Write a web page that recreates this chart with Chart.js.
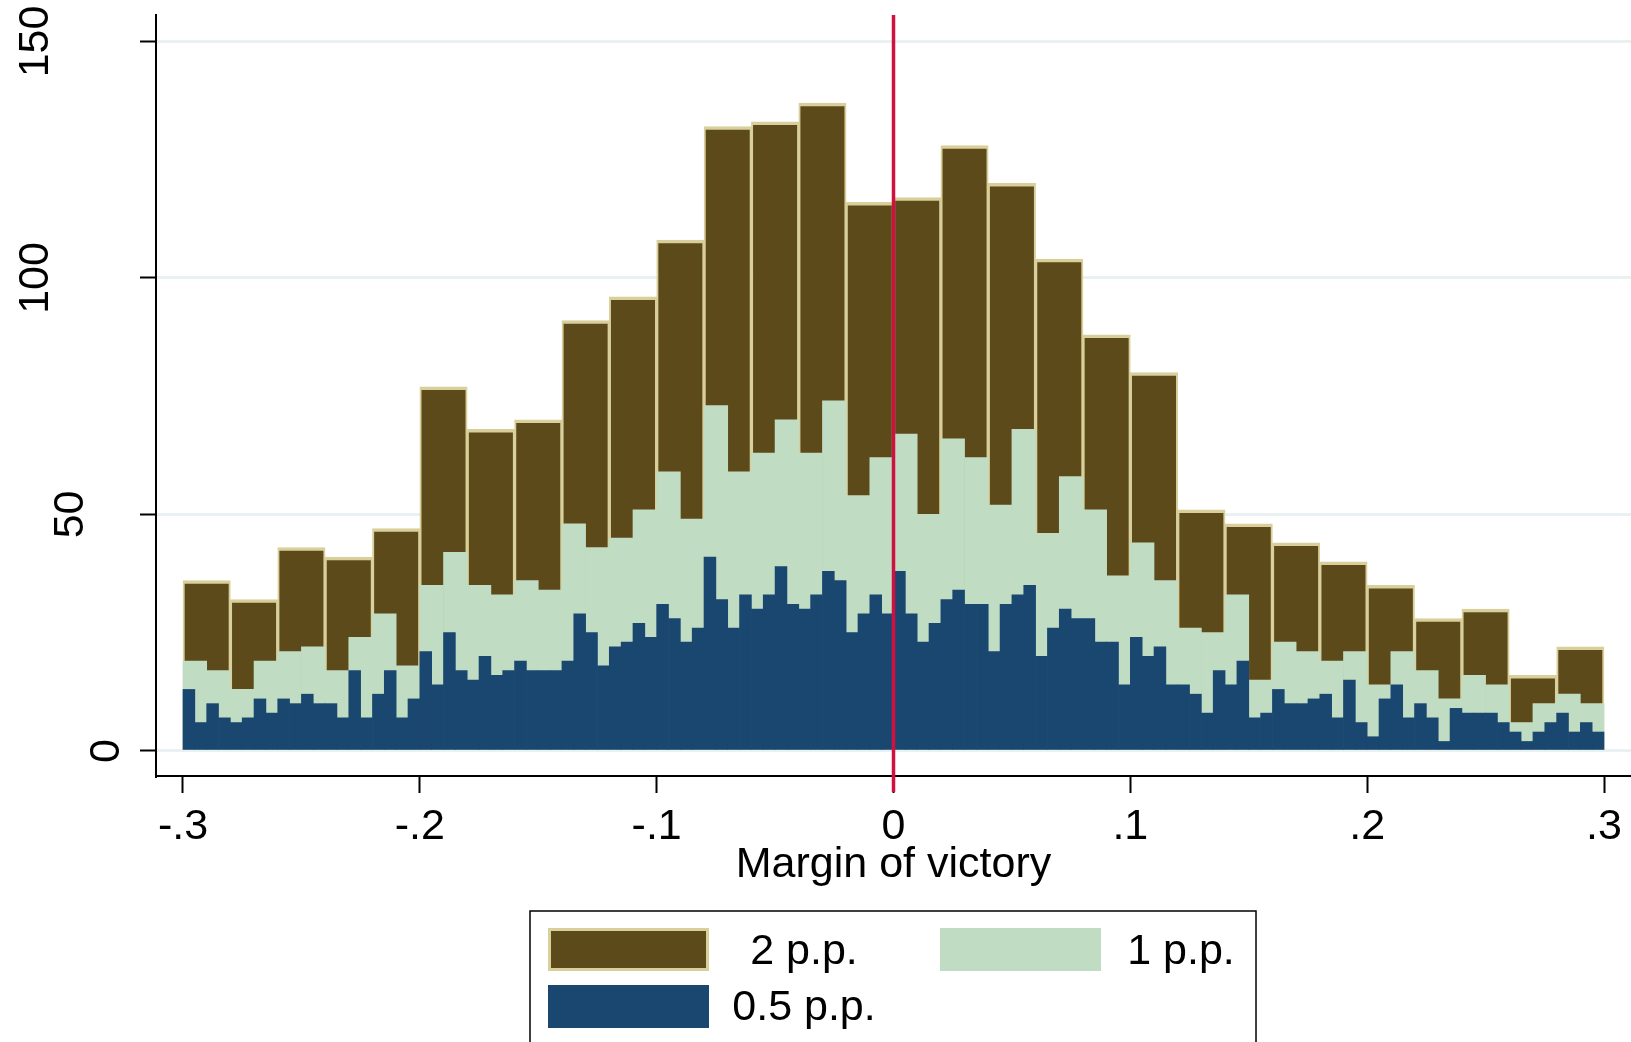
<!DOCTYPE html>
<html>
<head>
<meta charset="utf-8">
<script src="https://cdn.jsdelivr.net/npm/chart.js@4.4.1/dist/chart.umd.min.js"></script>
<style>
  html, body { margin: 0; padding: 0; background: #ffffff; }
  #wrap { position: relative; width: 1631px; height: 1042px; }
  canvas { display: block; }
</style>
</head>
<body>
<div id="wrap"><canvas id="hist" width="1631" height="1042"></canvas></div>
<script>
// Bin layout: every histogram starts at a margin of -0.3
const BIN_START = -0.3;
const WIDTH_2PP = 0.02;
const WIDTH_1PP = 0.01;
const WIDTH_05PP = 0.005;

// Frequencies per bin, left to right
const counts2pp = [36, 32, 43, 41, 47, 77, 68, 70, 91, 96,
                   108, 132, 133, 137, 116, 117, 128, 120, 104, 88,
                   80, 51, 48, 44, 40, 35, 28, 30, 16, 22];

const counts1pp = [19, 17, 13, 19, 21, 22, 17, 24, 29, 18,
                   35, 42, 35, 33, 36, 34, 48, 43, 45, 51,
                   59, 49, 73, 59, 63, 70, 63, 74, 54, 62,
                   67, 50, 66, 62, 52, 68, 46, 58, 51, 37,
                   44, 36, 26, 25, 33, 15, 23, 21, 19, 21,
                   14, 21, 17, 11, 16, 14, 6, 10, 12, 10];

const counts05pp = [13, 6, 10, 7, 6, 7, 11, 8, 11, 10,
                    12, 10, 10, 7, 17, 7, 12, 17, 7, 11,
                    21, 14, 25, 17, 15, 20, 16, 17, 19, 17,
                    17, 17, 19, 29, 25, 18, 22, 23, 27, 24,
                    31, 28, 23, 26, 41, 32, 26, 33, 30, 33,
                    39, 31, 30, 33, 38, 36, 25, 29, 33, 29,
                    38, 29, 23, 27, 32, 34, 31, 31, 21, 31,
                    33, 35, 20, 26, 30, 28, 28, 23, 23, 14,
                    24, 20, 22, 14, 14, 12, 8, 17, 14, 19,
                    7, 8, 13, 10, 10, 11, 12, 7, 15, 6,
                    3, 11, 14, 7, 10, 7, 2, 9, 8, 8,
                    8, 6, 4, 2, 4, 6, 8, 4, 6, 4];

const seriesLabels = ['2 p.p.', '1 p.p.', '0.5 p.p.'];
const yTickValues = [0, 50, 100, 150];
const xAxisTitle = 'Margin of victory';

// Axis ranges
const X_MIN = -0.3114, X_MAX = 0.3114;
const Y_MIN = -5.3, Y_MAX = 155.6;

const FONT = "'Liberation Sans', Arial, Helvetica, sans-serif";
const COLORS = {
  brown: '#5c4a1a',
  tan: '#d8cf9b',
  green: '#c0dcc2',
  navy: '#1a476f',
  grid: '#e9f1f2',
  cutoff: '#cf1140'
};

function toBins(counts, width) {
  return counts.map((c, i) => ({ x: BIN_START + width * (i + 0.5), y: c }));
}

function fmtMargin(v) {
  const n = Math.round(v * 10);
  if (n === 0) return '0';
  return (n < 0 ? '-.' : '.') + Math.abs(n);
}

// Vertical line at a zero margin, drawn over the bars
const cutoffLine = {
  id: 'cutoffLine',
  afterDatasetsDraw(chart) {
    const { ctx, chartArea, scales } = chart;
    const x = scales.x.getPixelForValue(0);
    ctx.save();
    ctx.strokeStyle = COLORS.cutoff;
    ctx.lineWidth = 3.5;
    ctx.beginPath();
    ctx.moveTo(x, chartArea.top);
    ctx.lineTo(x, chartArea.bottom + 16);
    ctx.stroke();
    ctx.restore();
  }
};

// Rotated y tick labels; longer labels sit further from the axis
const yLabels = {
  id: 'yLabels',
  afterDraw(chart) {
    const { ctx, scales } = chart;
    ctx.save();
    ctx.fillStyle = '#000';
    ctx.font = '43px ' + FONT;
    ctx.textAlign = 'center';
    ctx.textBaseline = 'middle';
    yTickValues.forEach(v => {
      const text = String(v);
      const y = scales.y.getPixelForValue(v);
      const x = 107 - (text.length - 1) * 35.5;
      ctx.save();
      ctx.translate(x, y);
      ctx.rotate(-Math.PI / 2);
      ctx.fillText(text, 0, 0);
      ctx.restore();
    });
    ctx.restore();
  }
};

// Boxed legend below the axis title, two columns
const boxLegend = {
  id: 'boxLegend',
  afterDraw(chart) {
    const { ctx } = chart;
    const ds = chart.data.datasets;
    const box = { x: 530, y: 911, w: 726, h: 160 };
    const slots = [
      { sx: 548, sy: 928, tx: 804, ty: 952 },
      { sx: 940, sy: 928, tx: 1181, ty: 952 },
      { sx: 548, sy: 985, tx: 804, ty: 1008 }
    ];
    ctx.save();
    ctx.fillStyle = '#fff';
    ctx.fillRect(box.x, box.y, box.w, box.h);
    ctx.strokeStyle = '#000';
    ctx.lineWidth = 1.5;
    ctx.strokeRect(box.x, box.y, box.w, box.h);
    ds.forEach((d, i) => {
      const s = slots[i];
      const w = 161, h = 43;
      ctx.fillStyle = d.borderWidth ? d.borderColor : d.backgroundColor;
      ctx.fillRect(s.sx, s.sy, w, h);
      if (d.borderWidth) {
        ctx.fillStyle = d.backgroundColor;
        ctx.fillRect(s.sx + 3, s.sy + 3, w - 6, h - 6);
      }
      ctx.fillStyle = '#000';
      ctx.font = '43px ' + FONT;
      ctx.textAlign = 'center';
      ctx.textBaseline = 'middle';
      ctx.fillText(d.label, s.tx, s.ty);
    });
    ctx.restore();
  }
};

const hiddenX = {
  type: 'linear', display: false, min: X_MIN, max: X_MAX, offset: false,
  ticks: { stepSize: 0.1, includeBounds: false }
};

new Chart(document.getElementById('hist'), {
  type: 'bar',
  data: {
    datasets: [
      {
        label: seriesLabels[0], xAxisID: 'x', order: 2,
        data: toBins(counts2pp, WIDTH_2PP),
        backgroundColor: COLORS.brown, borderColor: COLORS.tan,
        borderWidth: { top: 3.5, left: 2, right: 2, bottom: 0 }, borderSkipped: 'start',
        barPercentage: 1, categoryPercentage: 1, grouped: false
      },
      {
        label: seriesLabels[1], xAxisID: 'x1', order: 1,
        data: toBins(counts1pp, WIDTH_1PP),
        backgroundColor: COLORS.green, borderWidth: 0,
        barPercentage: 1, categoryPercentage: 1, grouped: false
      },
      {
        label: seriesLabels[2], xAxisID: 'x05', order: 0,
        data: toBins(counts05pp, WIDTH_05PP),
        backgroundColor: COLORS.navy, borderWidth: 0,
        barPercentage: 1, categoryPercentage: 1, grouped: false
      }
    ]
  },
  options: {
    responsive: false,
    devicePixelRatio: 1,
    animation: false,
    layout: { padding: { top: 15, right: 0, bottom: 0, left: 0 } },
    plugins: { legend: { display: false }, tooltip: { enabled: false }, title: { display: false } },
    scales: {
      x: {
        type: 'linear', position: 'bottom', min: X_MIN, max: X_MAX, offset: false,
        ticks: {
          stepSize: 0.1, includeBounds: false, autoSkip: false, maxRotation: 0, minRotation: 0,
          padding: 8, color: '#000', font: { family: FONT, size: 43 }, callback: fmtMargin
        },
        grid: {
          offset: false, drawOnChartArea: false, drawTicks: true,
          tickLength: 17, tickColor: '#000', tickWidth: 2
        },
        border: { display: true, color: '#000', width: 2 },
        title: {
          display: true, text: xAxisTitle, color: '#000',
          font: { family: FONT, size: 43 }, padding: { top: 0, bottom: 151 }
        },
        afterFit(scale) { scale.height = 266; }
      },
      x1: hiddenX,
      x05: hiddenX,
      y: {
        type: 'linear', min: Y_MIN, max: Y_MAX,
        ticks: { stepSize: 50, includeBounds: false, display: false },
        grid: { color: COLORS.grid, lineWidth: 3, drawTicks: true, tickLength: 16, tickColor: '#000', tickWidth: 2 },
        border: { display: true, color: '#000', width: 2 },
        afterFit(scale) { scale.width = 156; }
      }
    }
  },
  plugins: [cutoffLine, yLabels, boxLegend]
});
</script>
</body>
</html>
